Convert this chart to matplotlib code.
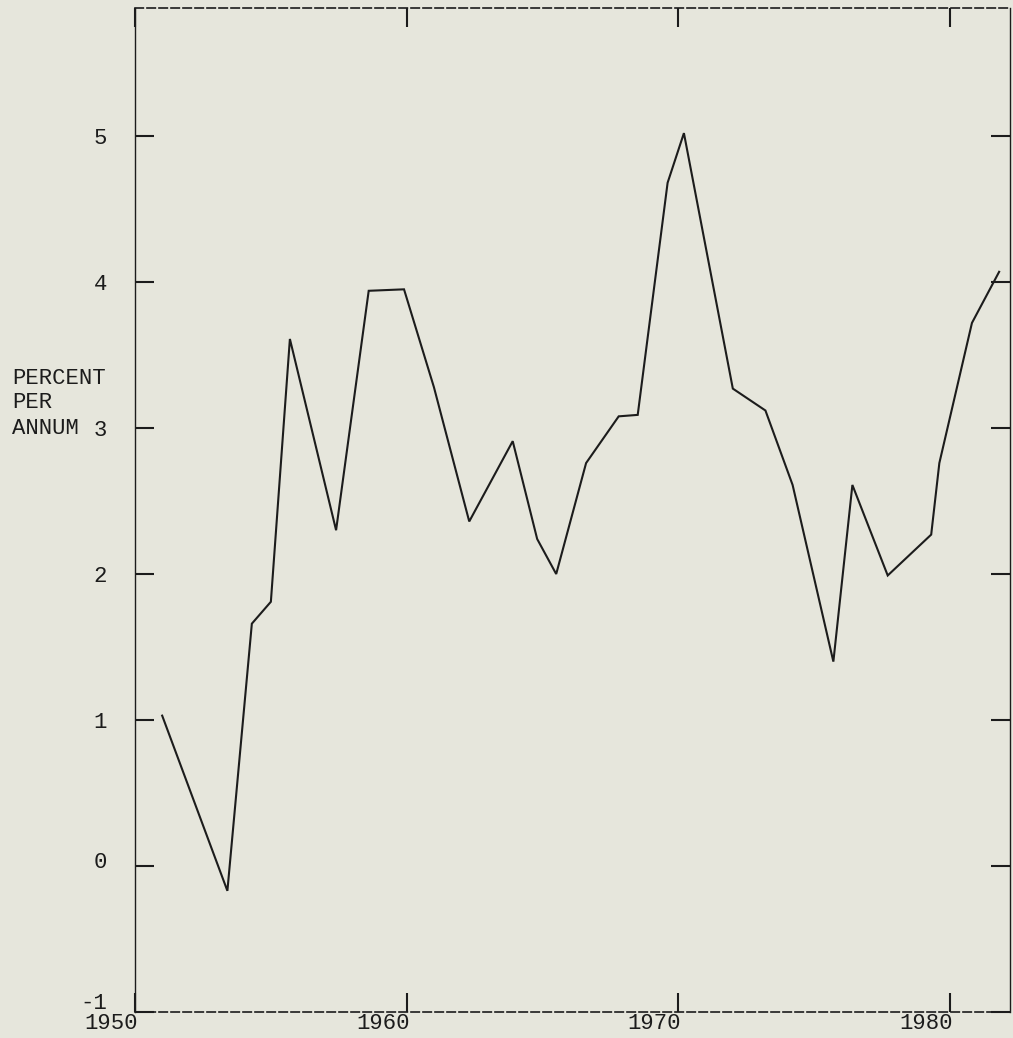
import matplotlib
matplotlib.use("Agg")
import matplotlib.pyplot as plt
from matplotlib.transforms import ScaledTranslation

# ---- data ----
years = [1951.0, 1953.4, 1954.3, 1955.0, 1955.7, 1957.4, 1958.6, 1959.9,
         1961.0, 1962.3, 1963.9, 1964.8, 1965.5, 1966.6, 1967.8, 1968.5,
         1969.6, 1970.2, 1972.0, 1973.2, 1974.2, 1975.7, 1976.4, 1977.7,
         1979.3, 1979.6, 1980.8, 1981.8]
rate = [1.03, -0.17, 1.66, 1.81, 3.61, 2.30, 3.94, 3.95,
        3.28, 2.36, 2.91, 2.24, 2.00, 2.76, 3.08, 3.09,
        4.68, 5.02, 3.27, 3.12, 2.61, 1.40, 2.61, 1.99,
        2.27, 2.76, 3.72, 4.07]
x_ticks = [1950, 1960, 1970, 1980]
x_tick_labels = ["1950", "1960", "1970", "1980"]
y_ticks = [-1, 0, 1, 2, 3, 4, 5]
y_tick_labels = ["-1", "0", "1", "2", "3", "4", "5"]
y_title_lines = ["PERCENT", "PER", "ANNUM"]

BG = "#e6e6dc"
INK = "#1c1c1c"
FONT = "Liberation Mono"
FS = 16

fig = plt.figure(figsize=(10.13, 10.38), dpi=100, facecolor=BG)
W, H = 1013, 1038
ax = fig.add_axes([135 / W, 1 - 1012 / H, (1010 - 135) / W, (1012 - 8) / H])
ax.set_facecolor(BG)

ax.plot(years, rate, color=INK, lw=1.5, solid_joinstyle="miter")

ax.set_xlim(1950, 1982.2)
ax.set_ylim(-1, 5.877)

ax.set_xticks(x_ticks)
ax.set_xticklabels(x_tick_labels, fontfamily=FONT, fontsize=FS, color=INK)
ax.set_yticks(y_ticks)
ax.set_yticklabels(y_tick_labels, fontfamily=FONT, fontsize=FS, color=INK)

ax.tick_params(axis="both", which="major", direction="in", length=14,
               width=1.5, color=INK, top=True, right=True)
ax.tick_params(axis="x", pad=1)
ax.tick_params(axis="y", pad=20)

# shift x tick labels left so their right edge sits near the tick
for lab in ax.get_xticklabels():
    lab.set_transform(lab.get_transform() + ScaledTranslation(-0.24, 0, fig.dpi_scale_trans))
# lift the lowest y labels slightly, as in the reference
ylabs = ax.get_yticklabels()
ylabs[0].set_transform(ylabs[0].get_transform() + ScaledTranslation(0, 0.11, fig.dpi_scale_trans))
ylabs[1].set_transform(ylabs[1].get_transform() + ScaledTranslation(0, 0.06, fig.dpi_scale_trans))

for side in ["top", "bottom"]:
    ax.spines[side].set_linestyle((0, (5, 2.2)))
    ax.spines[side].set_linewidth(1.2)
    ax.spines[side].set_color(INK)
for side in ["left", "right"]:
    ax.spines[side].set_linewidth(1.0)
    ax.spines[side].set_color(INK)

for i, line in enumerate(y_title_lines):
    fig.text(12 / W, 1 - (378 + 25 * i) / H, line, ha="left", va="center",
             fontfamily=FONT, fontsize=FS, color=INK)

fig.savefig("out.png", dpi=100, facecolor=BG)
